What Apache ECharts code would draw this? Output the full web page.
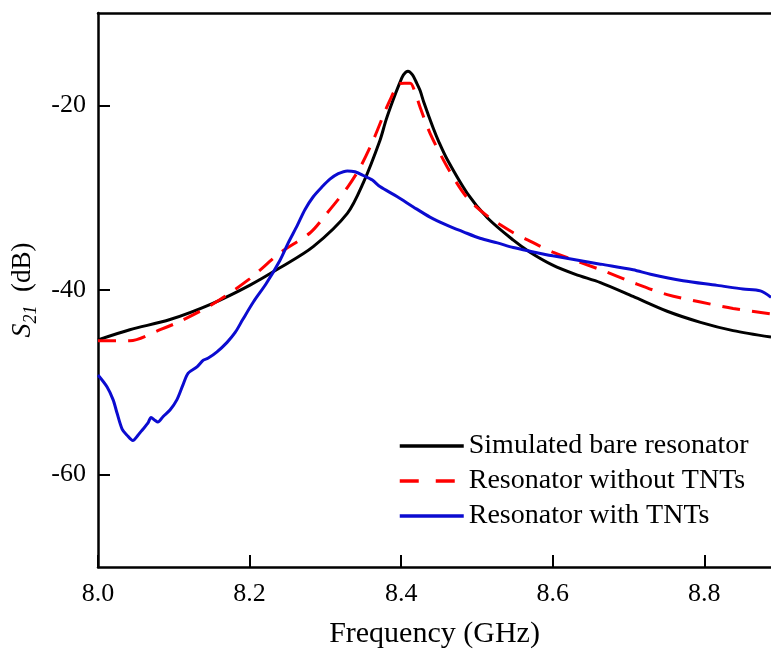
<!DOCTYPE html>
<html>
<head>
<meta charset="utf-8">
<script src="https://cdn.jsdelivr.net/npm/echarts@6/dist/echarts.min.js"></script>
<style>
html,body{margin:0;padding:0;background:#fff;}
#chart{width:771px;height:654px;}
</style>
</head>
<body>
<div id="chart"></div>
<script>
// ---- data ----
const xTicks = [8.0, 8.2, 8.4, 8.6, 8.8];
const yTicks = [-60, -40, -20];
const seriesNames = ['Simulated bare resonator', 'Resonator without TNTs', 'Resonator with TNTs'];

const fBlack = [8.000, 8.042, 8.095, 8.150, 8.200, 8.240, 8.284, 8.329, 8.350, 8.372, 8.380, 8.389, 8.398, 8.403, 8.409, 8.415, 8.420, 8.425, 8.430, 8.442, 8.450, 8.461, 8.487, 8.514, 8.548, 8.570, 8.600, 8.630, 8.663, 8.706, 8.751, 8.795, 8.838, 8.888];
const vBlack = [-45.4, -44.3, -43.2, -41.5, -39.5, -37.6, -35.3, -31.7, -28.4, -23.8, -21.6, -19.5, -17.6, -16.7, -16.3, -16.7, -17.5, -18.4, -19.7, -22.4, -24.0, -25.9, -29.5, -32.2, -34.6, -35.9, -37.3, -38.3, -39.2, -40.7, -42.3, -43.5, -44.4, -45.1];

const fRed = [8.000, 8.042, 8.082, 8.108, 8.150, 8.200, 8.240, 8.280, 8.302, 8.329, 8.346, 8.363, 8.381, 8.390, 8.395, 8.404, 8.412, 8.418, 8.425, 8.438, 8.461, 8.487, 8.514, 8.548, 8.570, 8.600, 8.663, 8.706, 8.751, 8.795, 8.838, 8.888];
const vRed = [-45.5, -45.5, -44.3, -43.4, -41.6, -38.8, -36.0, -33.8, -31.7, -28.9, -26.7, -23.8, -20.2, -18.6, -17.7, -17.6, -17.6, -18.5, -20.2, -23.0, -26.7, -30.0, -32.0, -33.8, -34.7, -35.9, -37.8, -39.2, -40.5, -41.3, -42.0, -42.6];

const fBlue = [8.000, 8.012, 8.020, 8.025, 8.032, 8.038, 8.046, 8.053, 8.059, 8.066, 8.070, 8.075, 8.079, 8.086, 8.095, 8.104, 8.112, 8.119, 8.131, 8.139, 8.145, 8.157, 8.170, 8.181, 8.191, 8.205, 8.222, 8.240, 8.251, 8.263, 8.273, 8.284, 8.296, 8.306, 8.317, 8.329, 8.339, 8.350, 8.362, 8.372, 8.395, 8.416, 8.438, 8.461, 8.482, 8.504, 8.527, 8.548, 8.570, 8.600, 8.663, 8.706, 8.729, 8.772, 8.817, 8.851, 8.874, 8.888];
const vBlue = [-49.2, -50.5, -51.9, -53.3, -55.1, -55.7, -56.3, -55.7, -55.1, -54.4, -53.8, -54.1, -54.3, -53.7, -53.0, -51.9, -50.3, -49.0, -48.3, -47.6, -47.4, -46.7, -45.7, -44.6, -43.2, -41.3, -39.3, -36.8, -34.9, -33.0, -31.3, -29.9, -28.8, -28.0, -27.4, -27.1, -27.2, -27.6, -28.1, -28.8, -29.9, -31.0, -32.1, -33.0, -33.7, -34.4, -34.9, -35.4, -35.8, -36.3, -37.2, -37.8, -38.3, -39.0, -39.5, -39.9, -40.1, -40.8];

// ---- chart ----
const FONT = '"Liberation Serif", "Times New Roman", serif';
const pairs = (xs, ys) => xs.map((x, i) => [x, ys[i]]);

const chart = echarts.init(document.getElementById('chart'), null, {renderer: 'canvas'});
const axisLineStyle = {color: '#000', width: 2.5};

chart.setOption({
  backgroundColor: '#ffffff',
  animation: false,
  grid: {left: 98, right: 0, top: 13, bottom: 86, containLabel: false},
  legend: {
    orient: 'vertical',
    left: 398,
    top: 432,
    padding: 0,
    itemWidth: 64,
    itemHeight: 14,
    itemGap: 7,
    itemStyle: {opacity: 0},
    textStyle: {fontFamily: FONT, fontSize: 28, color: '#000'},
    data: [
      {name: seriesNames[0], lineStyle: {width: 3.5}},
      {name: seriesNames[1], lineStyle: {width: 3.5, type: [19, 17]}},
      {name: seriesNames[2], lineStyle: {width: 3.5}}
    ]
  },
  xAxis: [{
    type: 'value', min: 8.0, max: 8.888, position: 'bottom',
    axisLine: {onZero: false, lineStyle: axisLineStyle},
    axisTick: {inside: true, length: 12, lineStyle: {color: '#000', width: 2}, customValues: xTicks},
    axisLabel: {customValues: xTicks, formatter: v => Number(v).toFixed(1), fontFamily: FONT, fontSize: 26, color: '#000', margin: 14},
    splitLine: {show: false},
    name: 'Frequency (GHz)', nameLocation: 'middle', nameGap: 52,
    nameTextStyle: {fontFamily: FONT, fontSize: 30, color: '#000'}
  }, {
    type: 'value', min: 8.0, max: 8.888, position: 'top',
    axisLine: {onZero: false, lineStyle: axisLineStyle},
    axisTick: {show: false}, axisLabel: {show: false}, splitLine: {show: false}
  }],
  yAxis: [{
    type: 'value', min: -70, max: -10, position: 'left',
    axisLine: {onZero: false, lineStyle: axisLineStyle},
    axisTick: {inside: true, length: 12, lineStyle: {color: '#000', width: 2}, customValues: yTicks},
    axisLabel: {customValues: yTicks, fontFamily: FONT, fontSize: 26, color: '#000', margin: 12},
    splitLine: {show: false},
    name: '{s|S}{sub|21}{t|  (dB)}', nameLocation: 'middle', nameRotate: 90, nameGap: 45,
    nameTextStyle: {
      fontFamily: FONT, fontSize: 27, color: '#000',
      rich: {
        s: {fontFamily: FONT, fontSize: 28, fontStyle: 'italic', color: '#000', lineHeight: 36, verticalAlign: 'middle'},
        sub: {fontFamily: FONT, fontSize: 18, fontStyle: 'italic', color: '#000', lineHeight: 18, verticalAlign: 'bottom'},
        t: {fontFamily: FONT, fontSize: 27, color: '#000', lineHeight: 36, verticalAlign: 'middle'}
      }
    }
  }],
  series: [{
    name: seriesNames[0], type: 'line', data: pairs(fBlack, vBlack),
    symbol: 'none', showSymbol: false, smooth: 0.3, lineStyle: {color: '#000000', width: 3}, itemStyle: {color: '#000000'}, z: 3
  }, {
    name: seriesNames[1], type: 'line', data: pairs(fRed, vRed),
    symbol: 'none', showSymbol: false, smooth: 0.3, lineStyle: {color: '#ff0000', width: 3, type: [18, 12]}, itemStyle: {color: '#ff0000'}, z: 4
  }, {
    name: seriesNames[2], type: 'line', data: pairs(fBlue, vBlue),
    symbol: 'none', showSymbol: false, smooth: 0.3, lineStyle: {color: '#0b0bd0', width: 3}, itemStyle: {color: '#0b0bd0'}, z: 5
  }]
});
</script>
</body>
</html>
